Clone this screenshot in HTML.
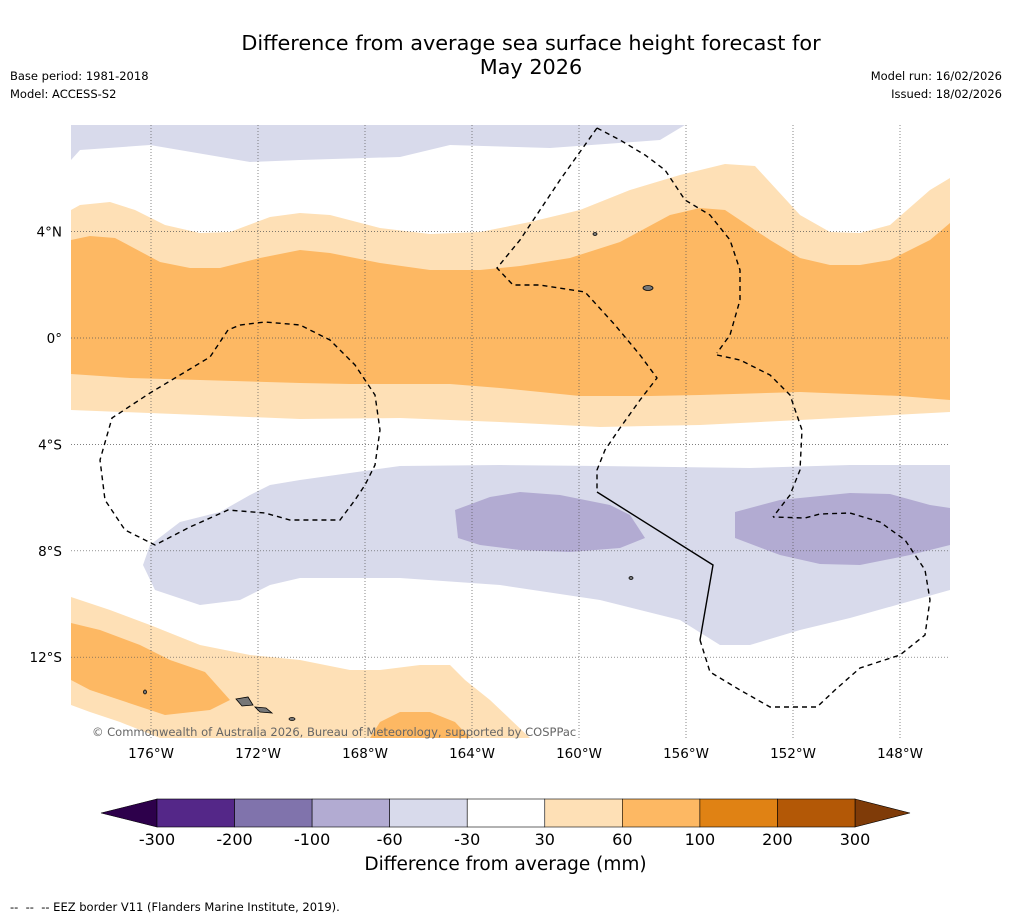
<!DOCTYPE html>
<html><head><meta charset="utf-8">
<style>
body{margin:0;background:#fff;font-family:"DejaVu Sans","Liberation Sans",sans-serif;}
#wrap{position:relative;width:1011px;height:919px;overflow:hidden;background:#fff;}
.t{position:absolute;white-space:nowrap;color:#000;}
</style></head>
<body>
<div id="wrap">
<div class="t" style="left:0;width:1062px;text-align:center;top:31px;font-size:20.8px;line-height:24px;">Difference from average sea surface height forecast for<br>May 2026</div>
<div class="t" style="left:10px;top:69px;font-size:11.5px;">Base period: 1981-2018</div>
<div class="t" style="left:10px;top:87px;font-size:11.5px;">Model: ACCESS-S2</div>
<div class="t" style="right:9px;top:69px;font-size:11.5px;">Model run: 16/02/2026</div>
<div class="t" style="right:9px;top:87px;font-size:11.5px;">Issued: 18/02/2026</div>

<svg id="map" width="1011" height="919" style="position:absolute;left:0;top:0">
<defs><clipPath id="mc"><rect x="71" y="125" width="879" height="613"/></clipPath></defs>
<g clip-path="url(#mc)">
<path fill="#d8daeb" d="M71,125 L685,125 L660,140 L550,148 L450,145 L400,157 L300,160 L250,162 L150,145 L80,150 L71,160 Z"/>
<path fill="#fee0b6" d="M71,210 L80,205 L110,202 L135,210 L165,225 L200,233 L230,232 L270,217 L300,213 L330,215 L380,228 L430,234 L480,232 L530,222 L580,210 L630,190 L680,175 L725,164 L755,166 L800,215 L830,232 L860,233 L890,225 L930,190 L950,178 L950,412 L800,420 L700,425 L600,427 L500,422 L400,418 L300,419 L200,415 L71,410 Z"/>
<path fill="#fdb863" d="M71,240 L90,236 L115,238 L160,262 L190,268 L220,268 L260,258 L300,250 L330,253 L380,263 L430,270 L480,270 L520,266 L570,258 L620,242 L670,215 L700,208 L725,210 L770,240 L800,258 L830,265 L860,265 L890,260 L930,240 L950,223 L950,400 L900,396 L800,392 L700,395 L650,396 L580,396 L500,388 L450,384 L350,384 L300,383 L200,380 L130,378 L71,374 Z"/>
<path fill="#d8daeb" d="M950,465 L850,465 L750,468 L600,466 L500,465 L400,466 L300,480 L270,485 L250,495 L220,512 L180,522 L150,545 L143,565 L155,590 L200,605 L240,600 L270,585 L300,578 L400,578 L500,585 L600,600 L680,620 L720,645 L750,645 L800,630 L850,618 L900,604 L950,590 Z"/>
<path fill="#b2abd2" d="M455,510 L490,497 L520,492 L560,495 L610,505 L630,515 L645,538 L620,548 L570,552 L520,550 L480,545 L458,538 Z"/>
<path fill="#b2abd2" d="M735,512 L780,500 L850,493 L890,494 L930,505 L950,508 L950,545 L910,555 L860,565 L820,564 L780,555 L735,538 Z"/>
<path fill="#fee0b6" d="M71,597 L110,610 L150,625 L200,645 L250,655 L300,660 L350,670 L380,670 L420,665 L450,665 L465,680 L490,700 L530,738 L160,738 L120,722 L90,712 L71,705 Z"/>
<path fill="#fdb863" d="M71,623 L100,630 L140,645 L170,660 L205,672 L230,700 L210,710 L165,715 L120,700 L90,690 L71,680 Z"/>
<path fill="#fdb863" d="M370,738 L380,722 L400,712 L430,712 L455,722 L470,738 Z"/>
<g id="grid" stroke="#555" stroke-width="0.7" stroke-dasharray="1,2"></g>
<g fill="none" stroke="#000" stroke-width="1.4" stroke-dasharray="5,4">
<polyline points="597,128 620,140 645,155 665,170 685,200 710,215 730,240 740,270 740,300 730,335 717,353"/>
<polyline points="717,355 740,360 770,375 790,395 802,430 800,470 790,495 773,517"/>
<polyline points="597,128 560,180 520,240 497,268 513,285 540,285 585,292 615,325 640,355 657,378 640,400 620,428 605,450 597,470 597,492"/>
<polyline points="700,640 710,672 740,690 770,707 817,707 835,690 860,668 900,655 925,635 930,600 925,570 905,540 880,522 850,513 820,514 805,518 773,517"/>
<polyline points="228,330 210,357 180,375 150,393 112,418 100,460 105,500 125,530 155,545 190,527 228,510 265,513 290,520 340,520 355,500 365,485 375,465 380,430 375,395 355,365 330,340 300,325 265,322 240,325 228,330"/>
</g>
<polyline fill="none" stroke="#000" stroke-width="1.4" points="597,492 713,565 700,640"/>
<g fill="#777" stroke="#000" stroke-width="0.8">
<path d="M236,699 L248,697 L253,705 L242,706 Z"/><path d="M255,707 L266,708 L272,713 L260,712 Z"/>
<ellipse cx="648" cy="288" rx="5" ry="2.5"/><ellipse cx="595" cy="234" rx="2" ry="1.5"/><ellipse cx="145" cy="692" rx="1.5" ry="2"/>
<ellipse cx="292" cy="719" rx="3" ry="1.5"/><ellipse cx="631" cy="578" rx="2" ry="1.5"/>
</g>
</g>
<text x="92" y="736" font-size="11.5" fill="#666" font-family="DejaVu Sans, sans-serif">© Commonwealth of Australia 2026, Bureau of Meteorology, supported by COSPPac</text>
<g id="axes" font-size="13.5" font-family="DejaVu Sans, sans-serif"></g>
<g id="cbar"></g>
</svg>
<div class="t" style="left:0;width:1011px;text-align:center;top:854px;font-size:18.5px;">Difference from average (mm)</div>
<div class="t" style="left:10px;top:900px;font-size:11.5px;">--&nbsp; --&nbsp; -- EEZ border V11 (Flanders Marine Institute, 2019).</div>
</div>
<script>
const lonTicks=[-176,-172,-168,-164,-160,-156,-152,-148];
const latTicks=[4,0,-4,-8,-12];
const levels=[-300,-200,-100,-60,-30,30,60,100,200,300];
const levelColors=["#542788","#8073ac","#b2abd2","#d8daeb","#ffffff","#fee0b6","#fdb863","#e08214","#b35806"];
const extendColors=["#2d004b","#7f3b08"];
const NS="http://www.w3.org/2000/svg";
const xLon=lon=>151+(lon+176)*26.75;
const yLat=lat=>338-lat*26.6;
const grid=document.getElementById('grid'),axes=document.getElementById('axes'),cb=document.getElementById('cbar');
function mk(tag,attrs,parent){const e=document.createElementNS(NS,tag);for(const k in attrs)e.setAttribute(k,attrs[k]);parent.appendChild(e);return e;}
lonTicks.forEach(l=>{const x=xLon(l);
 const g=mk('line',{x1:x,x2:x,y1:125,y2:738},grid);
 
 
 const t=mk('text',{x:x,y:758,'text-anchor':'middle'},axes);t.textContent=Math.abs(l)+'°W';
 
 });
latTicks.forEach(l=>{const y=yLat(l);
 const g=mk('line',{x1:71,x2:950,y1:y,y2:y},grid);
 
 
 const t=mk('text',{x:62,y:y+5,'text-anchor':'end'},axes);t.textContent=l===0?'0°':Math.abs(l)+'°'+(l>0?'N':'S');
 
 });
const cx0=157,cx1=855,cy=799,ch=28,n=levelColors.length,w=(cx1-cx0)/n;
const lo=mk('polygon',{points:`${cx0},${cy} ${cx0},${cy+ch} 101,${cy+ch/2}`,fill:extendColors[0],stroke:'#000','stroke-width':0.6},cb);


const hi=mk('polygon',{points:`${cx1},${cy} ${cx1},${cy+ch} 910,${cy+ch/2}`,fill:extendColors[1],stroke:'#000','stroke-width':0.6},cb);


levelColors.forEach((c,i)=>{const r=mk('rect',{x:cx0+i*w,y:cy,width:w,height:ch,fill:c,stroke:'#000','stroke-width':0.6},cb);
 
 });
levels.forEach((v,i)=>{const t=mk('text',{x:cx0+i*w,y:845,'text-anchor':'middle','font-size':16,'font-family':'DejaVu Sans, sans-serif'},cb);t.textContent=v;
 
 });
</script>
</body></html>
